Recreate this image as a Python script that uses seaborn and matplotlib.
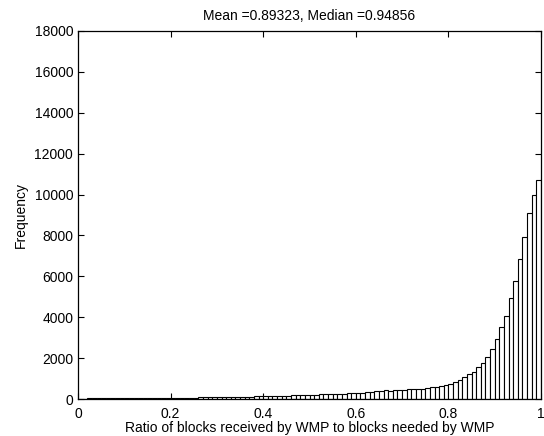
import numpy as np
import pandas as pd
import matplotlib
matplotlib.use("Agg")
import matplotlib.pyplot as plt
import seaborn as sns

# Histogram counts for 100 equal bins on [0, 1]
counts = [5, 20, 25, 30, 28, 30, 32, 30, 35, 35,
          38, 40, 38, 42, 45, 45, 48, 50, 52, 55,
          60, 58, 62, 65, 70, 72, 75, 80, 85, 88,
          92, 95, 100, 105, 110, 112, 118, 122, 128, 132,
          140, 145, 150, 155, 160, 170, 175, 180, 190, 195,
          205, 215, 225, 230, 240, 250, 255, 265, 275, 285,
          300, 310, 330, 350, 370, 391, 440, 391, 440, 440,
          440, 489, 489, 489, 489, 523, 587, 587, 636, 685,
          750, 832, 930, 1062, 1208, 1336, 1550, 1776, 2040, 2446,
          2950, 3508, 4060, 4925, 5773, 6850, 7910, 9100, 9965, 10714]
n_bins = 100
x_ticks = [0, 0.2, 0.4, 0.6, 0.8, 1]
x_tick_labels = ["0", "0.2", "0.4", "0.6", "0.8", "1"]
y_ticks = [0, 2000, 4000, 6000, 8000, 10000, 12000, 14000, 16000, 18000]
title = "Mean =0.89323, Median =0.94856"
xlabel = "Ratio of blocks received by WMP to blocks needed by WMP"
ylabel = "Frequency"

edges = np.linspace(0, 1, n_bins + 1)
centers = (edges[:-1] + edges[1:]) / 2
df = pd.DataFrame({"ratio": centers, "count": counts})

sns.set_theme(style="white")
plt.rcParams['font.family'] = ['Liberation Sans', 'DejaVu Sans']
plt.rcParams['text.color'] = 'black'
plt.rcParams['axes.labelcolor'] = 'black'
plt.rcParams['xtick.color'] = 'black'
plt.rcParams['ytick.color'] = 'black'

fig = plt.figure(figsize=(5.44, 4.36), dpi=100)
ax = fig.add_axes([78/544, 1 - 399/436, (541 - 78)/544, (399 - 31)/436])

sns.histplot(data=df, x="ratio", weights="count", binwidth=1.0 / n_bins,
             binrange=(0, 1), ax=ax,
             color="white", edgecolor="black", linewidth=0.8, alpha=1)

ax.set_xlim(0, 1)
ax.set_ylim(0, 18000)
ax.set_xticks(x_ticks)
ax.set_xticklabels(x_tick_labels)
ax.set_yticks(y_ticks)
ax.set_yticklabels([str(v) for v in y_ticks])
ax.tick_params(direction="in", length=4, width=0.8, labelsize=10,
               top=True, right=True, bottom=True, left=True,
               colors="black", labelcolor="black")
ax.tick_params(axis="x", pad=5.5)
ax.tick_params(axis="y", pad=3.5)
for s in ax.spines.values():
    s.set_color("black")
    s.set_linewidth(0.9)
ax.set_title(title, fontsize=10, pad=8, color="black")
ax.set_xlabel(xlabel, fontsize=10, labelpad=0, color="black")
ax.set_ylabel(ylabel, fontsize=10, labelpad=5, color="black")
ax.grid(False)

fig.savefig("out.png", dpi=100)
